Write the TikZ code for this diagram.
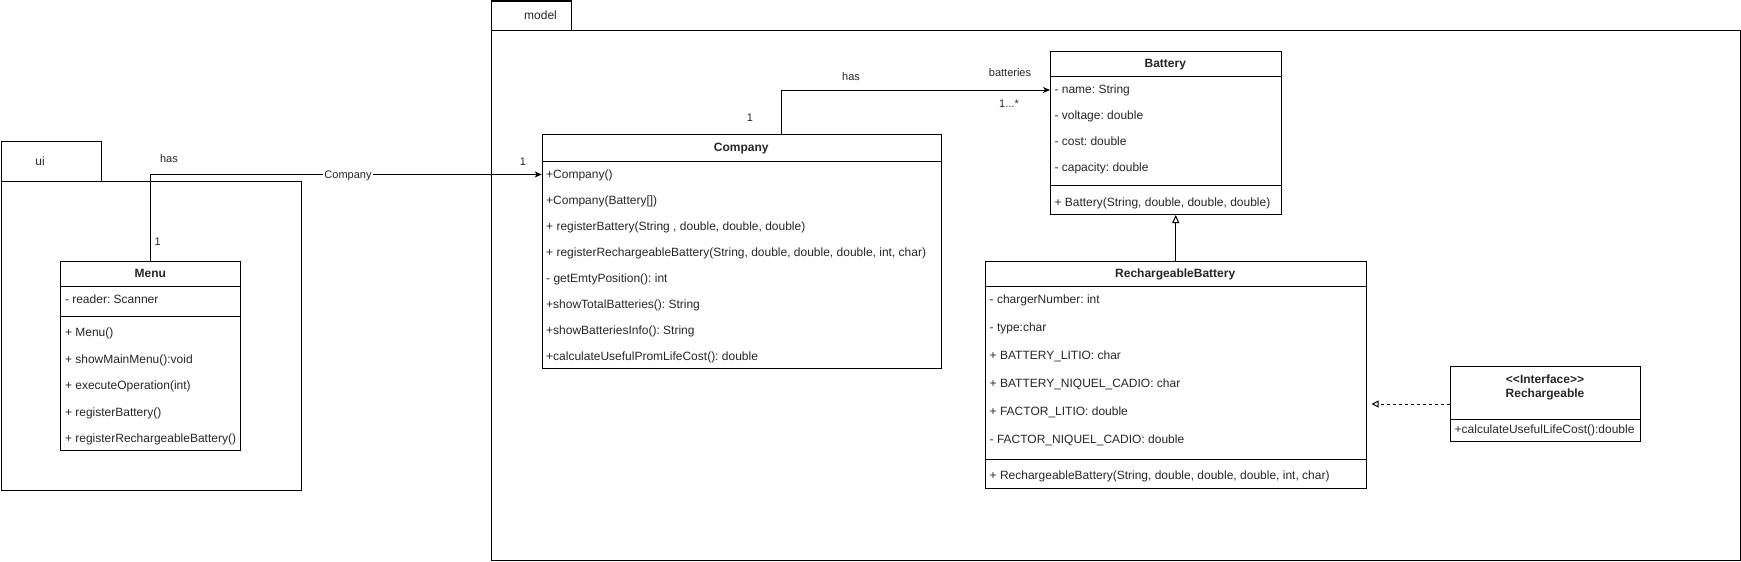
\documentclass[tikz,border=0pt]{standalone}
\usepackage{fontspec}
\setmainfont{Liberation Sans}[Ligatures=TeXOff]
\usetikzlibrary{arrows.meta}
\tikzset{
  umlbox/.style={draw, line width=1pt, inner sep=0pt, anchor=north west},
  umlsep/.style={line width=1pt},
  umltitle/.style={inner sep=0pt, text height=7pt, text depth=0pt, font=\fontsize{12}{14}\selectfont\bfseries, text=black!85},
  umlmember/.style={anchor=west, inner sep=0pt, text height=7pt, text depth=0pt, font=\fontsize{12}{14}\selectfont, text=black!85},
  umllabel/.style={inner sep=1pt, text height=7pt, text depth=0pt, font=\fontsize{11}{13}\selectfont, text=black!85},
  umlassoc/.style={line width=1pt, -{Stealth[length=7pt,width=6pt,inset=2pt]}},
  umlextends/.style={line width=1pt, -{Triangle[open,length=8pt,width=7pt,fill=white]}},
  umlrealize/.style={line width=1pt, dash pattern=on 3pt off 3pt, -{Triangle[open,length=7pt,width=7pt,fill=white]}}
}

\begin{document}
\frenchspacing
\begin{tikzpicture}[x=1pt, y=-1pt]
			%%%%% START %%%%%
			\useasboundingbox (0,0) rectangle (1741,562);
			
			% packages
			\node[umlbox, minimum width=100pt, minimum height=40.2pt] (uitab) at (0.5,140.5) {};
			\node[umlmember, anchor=center] (uiname) at (40,162) {ui};
			\node[umlbox, minimum width=300.2pt, minimum height=309.3pt] (ui) at (0.5,180.7) {};
			
			\node[umlbox, minimum width=80pt, minimum height=29.8pt] (modeltab) at (490.5,0.5) {};
			\node[umlmember, anchor=center] (modelname) at (540.5,16) {model};
			\node[umlbox, minimum width=1249.5pt, minimum height=529.2pt] (model) at (490.5,30.3) {};
			
			% Menu
			\node[umlbox, minimum width=180pt, minimum height=189.5pt] (menu) at (60.3,260.5) {};
			\node[umltitle] (menutitle) at (150.3,273.5) {Menu};
			\draw[umlsep] (menu.west |- 0,286) -- (menu.east |- 0,286);
			\node[umlmember] (mattr0) at (64.8,300) {- reader: Scanner};
			\draw[umlsep] (menu.west |- 0,316.5) -- (menu.east |- 0,316.5);
			\foreach \txt [count=\i from 0] in {{+ Menu()}, {+ showMainMenu():void}, {+ executeOperation(int)}, {+ registerBattery()}, {+ registerRechargeableBattery()}}
				\node[umlmember] (mrow\i) at (64.8, 333+26.5*\i) {\txt};
			
			% Company
			\node[umlbox, minimum width=399pt, minimum height=234pt] (company) at (541.7,134) {};
			\node[umltitle] (companytitle) at (741.2,147.5) {Company};
			\draw[umlsep] (company.west |- 0,161.5) -- (company.east |- 0,161.5);
			\foreach \txt [count=\i from 0] in {{+Company()}, {+Company(Battery[])}, {+ registerBattery(String , double, double, double)}, {+ registerRechargeableBattery(String, double, double, double, int, char)}, {- getEmtyPosition(): int}, {+showTotalBatteries(): String}, {+showBatteriesInfo(): String}, {+calculateUsefulPromLifeCost(): double}}
				\node[umlmember] (crow\i) at (546, 174.5+26.1*\i) {\txt};
			
			% Battery
			\node[umlbox, minimum width=230.7pt, minimum height=163.3pt] (battery) at (1050,50.7) {};
			\node[umltitle] (batterytitle) at (1165.3,63.5) {Battery};
			\draw[umlsep] (battery.west |- 0,76.5) -- (battery.east |- 0,76.5);
			\foreach \txt [count=\i from 0] in {{- name: String}, {- voltage: double}, {- cost: double}, {- capacity: double}}
				\node[umlmember] (brow\i) at (1054.3, 90+26*\i) {\txt};
			\draw[umlsep] (battery.west |- 0,185) -- (battery.east |- 0,185);
			\node[umlmember] (bop0) at (1054.3,203) {+ Battery(String, double, double, double)};
			
			% RechargeableBattery
			\node[umlbox, minimum width=380.5pt, minimum height=227.5pt] (rb) at (985,260.5) {};
			\node[umltitle] (rbtitle) at (1175.2,273.5) {RechargeableBattery};
			\draw[umlsep] (rb.west |- 0,286) -- (rb.east |- 0,286);
			\foreach \txt [count=\i from 0] in {{- chargerNumber: int}, {- type:char}, {+ BATTERY\_LITIO: char}, {+ BATTERY\_NIQUEL\_CADIO: char}, {+ FACTOR\_LITIO: double}, {- FACTOR\_NIQUEL\_CADIO: double}}
				\node[umlmember] (rrow\i) at (989.5, 300+28*\i) {\txt};
			\draw[umlsep] (rb.west |- 0,459) -- (rb.east |- 0,459);
			\node[umlmember] (rop0) at (989.5,475.5) {+ RechargeableBattery(String, double, double, double, int, char)};
			
			% Rechargeable
			\node[umlbox, minimum width=190pt, minimum height=75pt] (iface) at (1450,366) {};
			\node[umltitle] (ifacestereo) at (1545,380) {<<Interface>>};
			\node[umltitle] (ifacename) at (1545,394) {Rechargeable};
			\draw[umlsep] (iface.west |- 0,419.5) -- (iface.east |- 0,419.5);
			\node[umlmember] (iop0) at (1454.5,430) {+calculateUsefulLifeCost():double};
			
			% relations
			\draw[umlassoc] (menu.north) |- (crow0.west -| company.west);
			\node[umllabel] (hasmenu) at (169,159) {has};
			\node[umllabel] (onemenu) at (157.7,242) {1};
			\node[umllabel, fill=white] (rolecompany) at (348,174.5) {Company};
			\node[umllabel] (onecompany) at (523,162) {1};
			
			\draw[umlassoc] ([xshift=39.4pt]company.north) |- (brow0.west -| battery.west);
			\node[umllabel] (hasbattery) at (851,77) {has};
			\node[umllabel] (rolebatteries) at (1010,73) {batteries};
			\node[umllabel] (manybatteries) at (1009,104) {1...*};
			\node[umllabel] (oneowner) at (750,118) {1};
			
			\draw[umlextends] (rb.north) -- (rb.north |- battery.south);
			\draw[umlrealize] (iface.west) -- ([xshift=5pt]iface.west -| rb.east);
			
			%%%%% END %%%%%
\end{tikzpicture}
\end{document}
